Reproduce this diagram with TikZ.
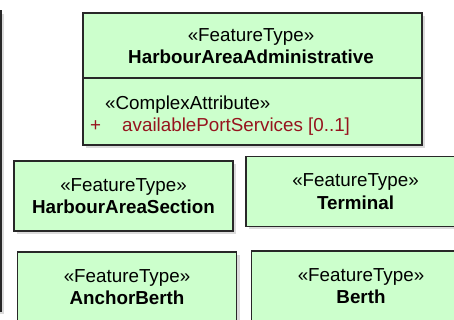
\documentclass[tikz,border=0pt]{standalone}
\usepackage{fontspec}
\newfontfamily\umlsans{Liberation Sans}
\newcommand\umlfont{\umlsans\fontsize{18.8}{22.6}\selectfont}
\usetikzlibrary{shadows}
\definecolor{featgreen}{RGB}{204,255,204}
\definecolor{attrred}{RGB}{150,20,30}
\definecolor{edgegray}{RGB}{40,40,40}
\begin{document}
\begin{tikzpicture}[x=1pt,y=1pt,
    class box/.style={draw=edgegray,fill=featgreen,line width=1.3pt,inner sep=0pt,
        minimum width=219pt,minimum height=70pt,align=center,font=\umlfont,
        drop shadow={shadow xshift=3pt,shadow yshift=-3pt,fill=black!28}},
    label text/.style={inner sep=0pt,font=\umlfont}]
        \path[use as bounding box,clip] (0,0) rectangle (454,320);
        \fill[white] (0,0) rectangle (454,320);

        % class cut off at the left edge
        \node[class box,fill=white,minimum width=200pt,minimum height=300pt,anchor=north east] at (1.5,309.5) (leftClass) {};
        \coordinate (leftSplit) at (0,248);
        \draw[line width=1.3pt,edgegray] (leftClass.west |- leftSplit) -- (leftClass.east |- leftSplit);

        % HarbourAreaAdministrative with its attribute compartment
        \node[class box,minimum width=339pt,minimum height=132pt] at (252.5,241) (admin) {};
        \coordinate (adminSplit) at (0,242);
        \draw[line width=1.3pt,edgegray] (admin.west |- adminSplit) -- (admin.east |- adminSplit);
        \node[label text,anchor=base] at (251,278) (adminStereo) {«FeatureType»};
        \node[label text,anchor=base,font=\umlfont\bfseries] at (251,256.5) (adminName) {HarbourAreaAdministrative};
        \node[label text,anchor=base west] at (105,210) (attrStereo) {«ComplexAttribute»};
        \node[label text,anchor=base west,text=attrred] at (90,188) (attrPlus) {+};
        \node[label text,anchor=base west,text=attrred] at (122,188) (attrName) {availablePortServices [0..1]};

        % the other feature types
        \node[class box] at (123.5,124) (section) {«FeatureType»\\\textbf{HarbourAreaSection}};
        \node[class box] at (355.5,128.5) (terminal) {«FeatureType»\\\textbf{Terminal}};
        \node[class box] at (127,33) (anchorBerth) {«FeatureType»\\\textbf{AnchorBerth}};
        \node[class box] at (361,34) (berth) {«FeatureType»\\\textbf{Berth}};
\end{tikzpicture}
\end{document}
